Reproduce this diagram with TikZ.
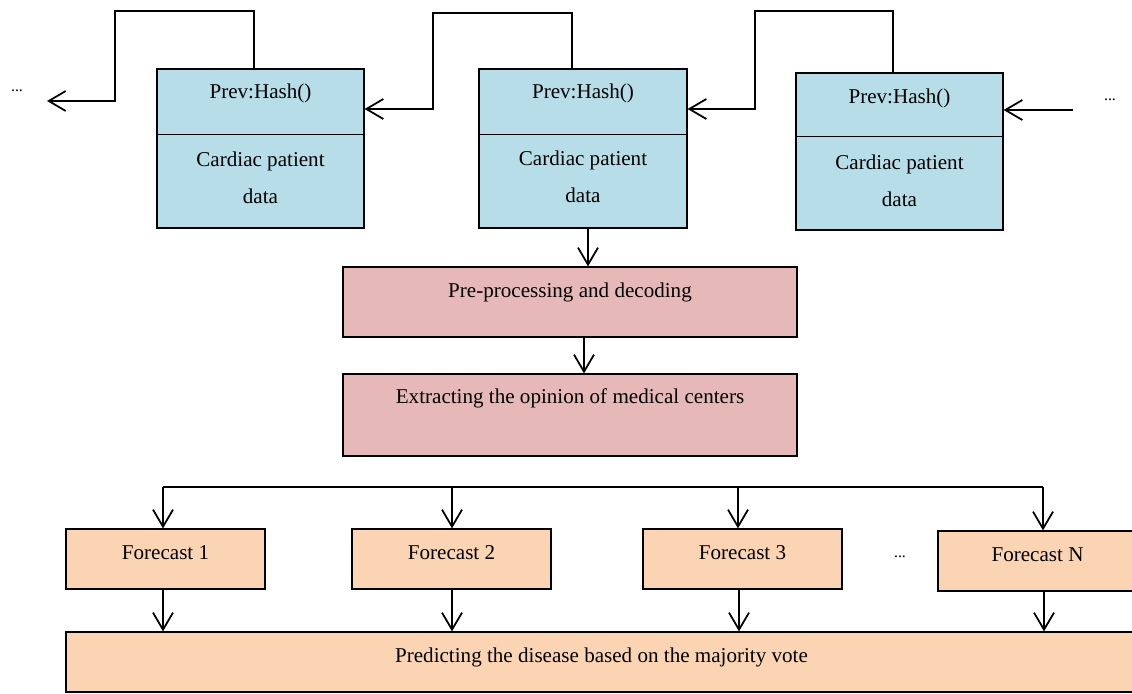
\documentclass[tikz,border=0pt]{standalone}
\usepackage{fontspec}
\setmainfont{Liberation Serif}
\usetikzlibrary{arrows.meta}
\definecolor{blockblue}{HTML}{B7DDE8}
\definecolor{stagepink}{HTML}{E6B9B8}
\definecolor{voteorange}{HTML}{FBD4B4}
\begin{document}
\begin{tikzpicture}[x=0.02cm,y=-0.02cm,
  every node/.style={font=\fontsize{12}{14}\selectfont, inner sep=0pt},
  chainblock/.style={draw=black, line width=0.7pt, fill=blockblue, minimum height=3.18cm},
  stagebox/.style={draw=black, line width=0.7pt, fill=stagepink, minimum width=9.08cm},
  forecastbox/.style={draw=black, line width=0.7pt, fill=voteorange, minimum width=3.98cm, minimum height=1.2cm},
  celltext/.style={align=center, font=\fontsize{12}{21}\selectfont},
  link/.style={line width=1pt},
  arr/.style={link, -{Straight Barb[length=3.4mm,width=4mm]}},
  dots/.style={font=\fontsize{9}{9}\selectfont}]
\useasboundingbox (0,0) rectangle (1132,693);
\clip (0,0) rectangle (1132,693);

% ---- blockchain blocks ----
\node[chainblock, minimum width=4.14cm] (b1) at (260.5,148.5) {};
\node[chainblock, minimum width=4.16cm] (b2) at (583,148.5) {};
\node[chainblock, minimum width=4.14cm, minimum height=3.14cm] (b3) at (899.5,151.5) {};
\draw[line width=0.7pt] ([yshift=-1.32cm]b1.north west) -- ([yshift=-1.32cm]b1.north east);
\draw[line width=0.7pt] ([yshift=-1.32cm]b2.north west) -- ([yshift=-1.32cm]b2.north east);
\draw[line width=0.7pt] ([yshift=-1.28cm]b3.north west) -- ([yshift=-1.28cm]b3.north east);

\node (b1hash) at (260.5,93) {Prev:Hash()};
\node[celltext] (b1data) at (260.5,178) {Cardiac patient\\data};
\node (b2hash) at (583,93) {Prev:Hash()};
\node[celltext] (b2data) at (583,177) {Cardiac patient\\data};
\node (b3hash) at (899.5,98) {Prev:Hash()};
\node[celltext] (b3data) at (899.5,180.5) {Cardiac patient\\data};

\node[dots] (dotsL) at (17,91) {...};
\node[dots] (dotsR) at (1110,100) {...};

% hash links between the blocks
\coordinate (t1) at (254,11);  \coordinate (k1) at (115,101); \coordinate (e1) at (47,101);
\coordinate (t2) at (572,13);  \coordinate (k2) at (433,109);
\coordinate (t3) at (893,11);  \coordinate (k3) at (755,109);
\coordinate (s4) at (1073,110);
\draw[arr] (b1.north -| t1) -- (t1) -| (k1) -- (e1);
\draw[arr] (b2.north -| t2) -- (t2) -| (k2) -- (b1.east |- k2);
\draw[arr] (b3.north -| t3) -- (t3) -| (k3) -- (b2.east |- k3);
\draw[arr] (s4) -- (b3.east |- s4);

% ---- processing stages ----
\node[stagebox, minimum height=1.4cm] (pre) at (570,302) {};
\node (pretext) at (570,292) {Pre-processing and decoding};
\node[stagebox, minimum height=1.64cm] (ext) at (570,415) {};
\node (exttext) at (570,398) {Extracting the opinion of medical centers};

\coordinate (d0) at (588,0);
\coordinate (d1) at (584,0);
\draw[arr] (b2.south -| d0) -- (pre.north -| d0);
\draw[arr] (pre.south -| d1) -- (ext.north -| d1);

% ---- forecasts ----
\node[forecastbox] (f1) at (165.5,559) {};
\node[forecastbox] (f2) at (451.5,559) {};
\node[forecastbox] (f3) at (742.5,559) {};
\node[forecastbox] (fn) at (1037.5,561) {};
\node (f1text) at (165.5,553) {Forecast 1};
\node (f2text) at (451.5,553) {Forecast 2};
\node (f3text) at (742.5,553) {Forecast 3};
\node (fntext) at (1037.5,555) {Forecast N};
\node[dots] (dotsF) at (900,557) {...};

\node[forecastbox, minimum width=21.42cm] (vote) at (601.5,662) {};
\node (votetext) at (601.5,657) {Predicting the disease based on the majority vote};

% distribution bar
\coordinate (p1) at (163,487);
\coordinate (p2) at (452,487);
\coordinate (p3) at (738,487);
\coordinate (p4) at (1043,487);
\draw[link] (p1) -- (p4);
\draw[arr] (p1) -- (f1.north -| p1);
\draw[arr] (p2) -- (f2.north -| p2);
\draw[arr] (p3) -- (f3.north -| p3);
\draw[arr] (p4) -- (fn.north -| p4);

% votes into the final decision
\coordinate (q1) at (163,0);
\coordinate (q2) at (452,0);
\coordinate (q3) at (739,0);
\coordinate (q4) at (1044,0);
\draw[arr] (f1.south -| q1) -- (vote.north -| q1);
\draw[arr] (f2.south -| q2) -- (vote.north -| q2);
\draw[arr] (f3.south -| q3) -- (vote.north -| q3);
\draw[arr] (fn.south -| q4) -- (vote.north -| q4);
\end{tikzpicture}
\end{document}
